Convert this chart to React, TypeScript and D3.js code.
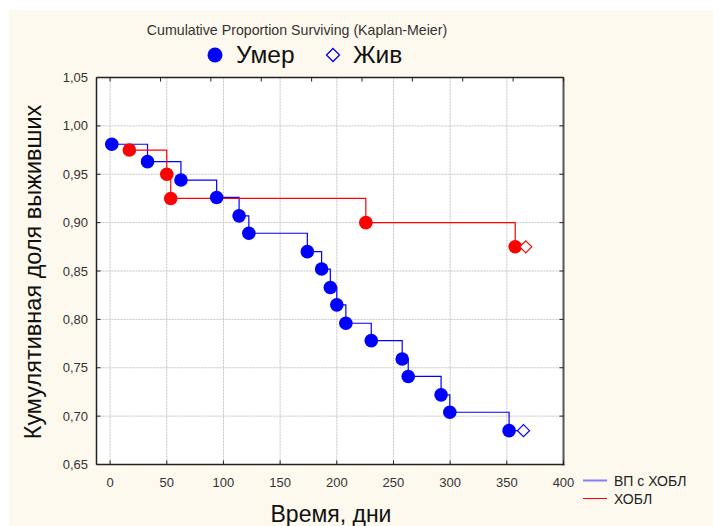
import React from 'react';
import * as d3 from 'd3';

// Data
const bluePointsTime = [1.5, 33, 62.5, 94, 113.8, 122.4, 174, 186.6, 194.3, 200, 208, 230.4, 257.7, 263, 292, 299.7, 352];
const bluePointsSurv = [0.981, 0.963, 0.944, 0.926, 0.907, 0.889, 0.870, 0.852, 0.833, 0.815, 0.796, 0.778, 0.759, 0.741, 0.722, 0.704, 0.685];
const blueCensTime = [364.7];
const blueCensSurv = [0.685];

const redPointsTime = [17, 50, 53.5, 225.6, 357.4];
const redPointsSurv = [0.975, 0.95, 0.925, 0.9, 0.875];
const redCensTime = [366.7];
const redCensSurv = [0.875];

const xTicks = [0, 50, 100, 150, 200, 250, 300, 350, 400];
const yTicks = [0.65, 0.7, 0.75, 0.8, 0.85, 0.9, 0.95, 1.0, 1.05];
const topTickCount = 9;

const seriesNames = ['ВП с ХОБЛ', 'ХОБЛ'];
const markerNames = ['Умер', 'Жив'];

const W = 713, H = 526;
const L = 96.5, R = 563.5, T = 77.5, B = 464.5;
const FONT = 'Liberation Sans, Arial, sans-serif';

export default function App() {
  const x = d3.scaleLinear().domain([-12, 400]).range([L, R]);
  const y = d3.scaleLinear().domain([0.65, 1.05]).range([B, T]);
  const fmt = (v: number) => v.toFixed(2).replace('.', ',');
  const topTicks = d3.range(0, topTickCount + 1).map(i => (i * 400) / topTickCount);

  const line = d3.line<[number, number]>().x(d => x(d[0])).y(d => y(d[1])).curve(d3.curveStepAfter);
  const bluePts: [number, number][] = bluePointsTime.map((t, i) => [t, bluePointsSurv[i]]);
  const blueAll: [number, number][] = [...bluePts, ...blueCensTime.map((t, i) => [t, blueCensSurv[i]] as [number, number])];
  const redPts: [number, number][] = redPointsTime.map((t, i) => [t, redPointsSurv[i]]);
  const redAll: [number, number][] = [...redPts, ...redCensTime.map((t, i) => [t, redCensSurv[i]] as [number, number])];

  const diamond = (cx: number, cy: number, r: number) =>
    `M${cx},${cy - r}L${cx + r},${cy}L${cx},${cy + r}L${cx - r},${cy}Z`;

  return (
    <svg width={W} height={H} style={{ position: 'absolute', left: 0, top: 0, fontFamily: FONT }}>
      <rect x={0} y={0} width={W} height={H} fill="#ffffff" />
      <rect x={9} y={10} width={W - 9} height={H - 10} fill="#fef9ee" />
      <rect x={L} y={T} width={R - L} height={B - T} fill="#ffffff" />

      {/* grid */}
      {xTicks.map(t => (
        <line key={'gx' + t} x1={x(t)} x2={x(t)} y1={T} y2={B} stroke="#c4c4c4" strokeDasharray="2,1" />
      ))}
      {yTicks.map(t => (
        <line key={'gy' + t} x1={L} x2={R} y1={y(t)} y2={y(t)} stroke="#c4c4c4" strokeDasharray="2,1" />
      ))}

      {/* step lines */}
      <path d={line(blueAll) || ''} fill="none" stroke="#0000ff" strokeWidth={1.2} />
      <path d={line(redAll) || ''} fill="none" stroke="#ff0000" strokeWidth={1.2} />

      {/* markers */}
      {redPts.map((p, i) => (
        <circle key={'rc' + i} cx={x(p[0])} cy={y(p[1])} r={6.8} fill="#ff0000" />
      ))}
      {redCensTime.map((t, i) => (
        <path key={'rd' + i} d={diamond(x(t), y(redCensSurv[i]), 6)} fill="#ffffff" stroke="#ff0000" strokeWidth={1.2} />
      ))}
      {bluePts.map((p, i) => (
        <circle key={'bc' + i} cx={x(p[0])} cy={y(p[1])} r={6.8} fill="#0000ff" />
      ))}
      {blueCensTime.map((t, i) => (
        <path key={'bd' + i} d={diamond(x(t), y(blueCensSurv[i]), 6)} fill="#ffffff" stroke="#0000ff" strokeWidth={1.2} />
      ))}

      {/* frame */}
      <line x1={L} x2={R} y1={T} y2={T} stroke="#222" strokeWidth={1.5} />
      <line x1={L} x2={L} y1={T} y2={B} stroke="#222" strokeWidth={1.5} />
      <line x1={L} x2={R + 1} y1={B} y2={B} stroke="#222" strokeWidth={1.5} />
      <line x1={R} x2={R} y1={T} y2={B + 1} stroke="#555" strokeWidth={2} />

      {/* ticks */}
      {xTicks.map(t => (
        <line key={'bt' + t} x1={x(t)} x2={x(t)} y1={B} y2={B - 4} stroke="#222" />
      ))}
      {topTicks.map(t => (
        <line key={'tt' + t} x1={x(t)} x2={x(t)} y1={T} y2={T + 4} stroke="#222" />
      ))}
      {yTicks.map(t => (
        <g key={'yt' + t}>
          <line x1={L} x2={L + 4} y1={y(t)} y2={y(t)} stroke="#222" />
          <line x1={R} x2={R - 4} y1={y(t)} y2={y(t)} stroke="#222" />
        </g>
      ))}

      {/* tick labels */}
      {xTicks.map(t => (
        <text key={'xl' + t} x={x(t)} y={487} textAnchor="middle" fontSize={13} fill="#333">{t}</text>
      ))}
      {yTicks.map(t => (
        <text key={'yl' + t} x={88} y={y(t) + 4.5} textAnchor="end" fontSize={13} fill="#333">{fmt(t)}</text>
      ))}

      {/* titles */}
      <text x={297} y={35} textAnchor="middle" fontSize={14.2} fill="#333">Cumulative Proportion Surviving (Kaplan-Meier)</text>
      <text x={331} y={522} textAnchor="middle" fontSize={23} fill="#111">Время, дни</text>
      <text transform="translate(41,272) rotate(-90)" textAnchor="middle" fontSize={23.5} fill="#111">Кумулятивная доля выживших</text>

      {/* marker legend */}
      <circle cx={215} cy={55} r={7.5} fill="#0000ff" />
      <text x={236} y={63} fontSize={24.5} fill="#111">{markerNames[0]}</text>
      <path d={diamond(333, 55, 6.5)} fill="#ffffff" stroke="#0000ff" strokeWidth={1.3} />
      <text x={353} y={63} fontSize={24.5} fill="#111">{markerNames[1]}</text>

      {/* series legend */}
      <line x1={583} x2={607} y1={480.5} y2={480.5} stroke="#8080ff" strokeWidth={2} />
      <text x={614} y={485.5} fontSize={14} fill="#222">{seriesNames[0]}</text>
      <line x1={583} x2={607} y1={498.5} y2={498.5} stroke="#ff0000" strokeWidth={1} />
      <text x={614} y={503.5} fontSize={14} fill="#222">{seriesNames[1]}</text>
    </svg>
  );
}
